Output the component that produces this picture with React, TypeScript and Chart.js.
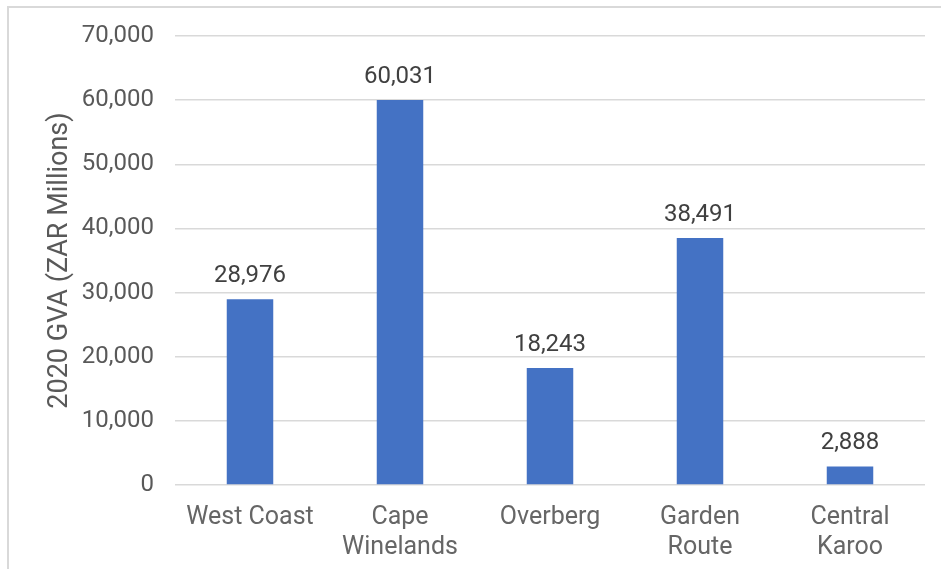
import React, { useEffect, useRef } from "react";
import { Chart, registerables } from "chart.js";

Chart.register(...registerables);

const categories: string[][] = [
  ["West Coast"],
  ["Cape", "Winelands"],
  ["Overberg"],
  ["Garden", "Route"],
  ["Central", "Karoo"],
];
const gvaValues: number[] = [28976, 60031, 18243, 38491, 2888];
const yMin = 0;
const yMax = 70000;
const yStep = 10000;
const yTitle = "2020 GVA (ZAR Millions)";

const fmt = (v: number) => v.toLocaleString("en-US");
const FONT = "Roboto, 'DejaVu Sans', sans-serif";

const borderPlugin = {
  id: "outerBorder",
  beforeDraw(chart: any) {
    const ctx = chart.ctx;
    ctx.save();
    ctx.fillStyle = "#ffffff";
    ctx.fillRect(0, 0, chart.width, chart.height);
    ctx.strokeStyle = "#d9d9d9";
    ctx.lineWidth = 2;
    ctx.beginPath();
    ctx.moveTo(8, chart.height + 2);
    ctx.lineTo(8, 7);
    ctx.lineTo(chart.width + 2, 7);
    ctx.stroke();
    ctx.restore();
  },
};

const labelPlugin = {
  id: "barLabels",
  afterDatasetsDraw(chart: any) {
    const ctx = chart.ctx;
    const meta = chart.getDatasetMeta(0);
    ctx.save();
    ctx.font = `24px ${FONT}`;
    ctx.fillStyle = "#404040";
    ctx.textAlign = "center";
    ctx.textBaseline = "alphabetic";
    meta.data.forEach((bar: any, i: number) => {
      ctx.fillText(fmt(gvaValues[i]), bar.x, bar.y - 17);
    });
    ctx.restore();
  },
};

export default function App() {
  const ref = useRef<HTMLCanvasElement | null>(null);
  useEffect(() => {
    if (!ref.current) return;
    const chart = new Chart(ref.current, {
      type: "bar",
      data: {
        labels: categories,
        datasets: [
          {
            data: gvaValues,
            backgroundColor: "#4472C4",
            borderWidth: 0,
            barPercentage: 0.31,
            categoryPercentage: 1,
          },
        ],
      },
      options: {
        responsive: false,
        animation: false,
        devicePixelRatio: 1,
        layout: { padding: { top: 36, right: 16, left: 0, bottom: 0 } },
        plugins: {
          legend: { display: false },
          tooltip: { enabled: false },
        },
        scales: {
          x: {
            grid: { display: false },
            border: { display: false },
            ticks: {
              color: "#666666",
              font: { family: FONT, size: 25, lineHeight: 1.18 },
              padding: 10,
              maxRotation: 0,
              autoSkip: false,
            },
            afterFit(s: any) {
              s.height = 84;
            },
          },
          y: {
            min: yMin,
            max: yMax,
            grid: { color: "#d9d9d9", lineWidth: 1.5, drawTicks: false },
            border: { display: false },
            ticks: {
              stepSize: yStep,
              color: "#595959",
              font: { family: FONT, size: 24 },
              padding: 21,
              callback: (v: any) => fmt(Number(v)),
            },
            title: {
              display: true,
              text: yTitle,
              color: "#595959",
              font: { family: FONT, size: 27 },
              padding: { top: 44, bottom: 0 },
            },
            afterFit(s: any) {
              s.width = 175;
            },
          },
        },
      },
      plugins: [borderPlugin, labelPlugin],
    });
    return () => chart.destroy();
  }, []);
  return (
    <div style={{ position: "fixed", left: 0, top: 0, width: 941, height: 569 }}>
      <canvas ref={ref} width={941} height={569} style={{ display: "block" }} />
    </div>
  );
}
